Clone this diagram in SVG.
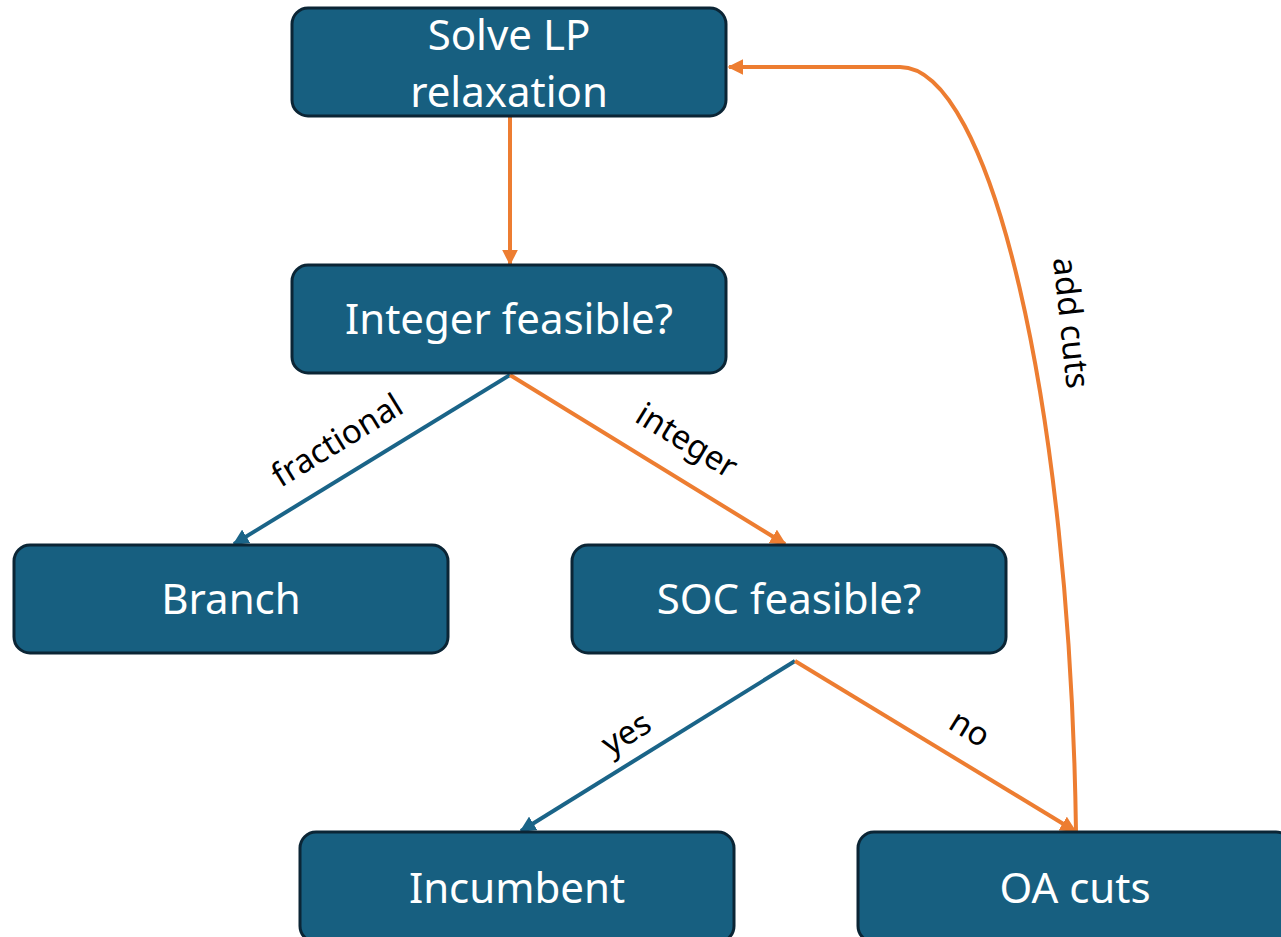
<svg xmlns="http://www.w3.org/2000/svg" width="1281" height="937" viewBox="0 0 1281 937">
<defs>
<style>
.box{fill:#175f80;stroke:#0b2535;stroke-width:3}
.bt{fill:#ffffff;font-family:"Noto Sans","Open Sans",sans-serif;font-size:42px;text-anchor:middle}
.lbl{fill:#000000;font-family:"Noto Sans","Open Sans",sans-serif;font-size:33px;text-anchor:middle}
.or{fill:none;stroke:#ed7d31;stroke-width:4}
.bl{fill:none;stroke:#1a6488;stroke-width:4}
</style>
<marker id="ao" viewBox="0 0 10 10" refX="9" refY="5" markerWidth="4" markerHeight="4" orient="auto" markerUnits="strokeWidth"><path d="M0,0 L10,5 L0,10 z" fill="#ed7d31"/></marker>
<marker id="ab" viewBox="0 0 10 10" refX="9" refY="5" markerWidth="4" markerHeight="4" orient="auto" markerUnits="strokeWidth"><path d="M0,0 L10,5 L0,10 z" fill="#1a6488"/></marker>
</defs>
<rect width="1281" height="937" fill="#ffffff"/>
<g id="connectors">
<path class="or" d="M510,116 L510,264" marker-end="url(#ao)"/>
<path class="bl" d="M510,375 L234,544" marker-end="url(#ab)"/>
<path class="or" d="M510,375 L785,544" marker-end="url(#ao)"/>
<path class="bl" d="M795,661 L521,831" marker-end="url(#ab)"/>
<path class="or" d="M795,661 L1075,831" marker-end="url(#ao)"/>
<path class="or" d="M1076,832 C1070,400 990,67 900,67 L729,67" marker-end="url(#ao)"/>
<text class="lbl" transform="translate(343,450) rotate(-31.5)">fractional</text>
<text class="lbl" transform="translate(681,450) rotate(31.5)">integer</text>
<text class="lbl" transform="translate(632,743) rotate(-31.5)">yes</text>
<text class="lbl" transform="translate(964,738) rotate(31.5)">no</text>
<text class="lbl" transform="translate(1060,324) rotate(84)">add cuts</text>
</g>
<g id="n1"><rect class="box" x="292" y="8" width="434" height="108" rx="16"/><text class="bt" x="509" y="50">Solve LP</text><text class="bt" x="509" y="107">relaxation</text></g>
<g id="n2"><rect class="box" x="292" y="265" width="434" height="108" rx="16"/><text class="bt" x="509" y="334">Integer feasible?</text></g>
<g id="n3"><rect class="box" x="14" y="545" width="434" height="108" rx="16"/><text class="bt" x="231" y="614">Branch</text></g>
<g id="n4"><rect class="box" x="572" y="545" width="434" height="108" rx="16"/><text class="bt" x="789" y="614">SOC feasible?</text></g>
<g id="n5"><rect class="box" x="300" y="832" width="434" height="110" rx="16"/><text class="bt" x="517" y="903">Incumbent</text></g>
<g id="n6"><rect class="box" x="858" y="832" width="434" height="110" rx="16"/><text class="bt" x="1075" y="903">OA cuts</text></g>
</svg>
